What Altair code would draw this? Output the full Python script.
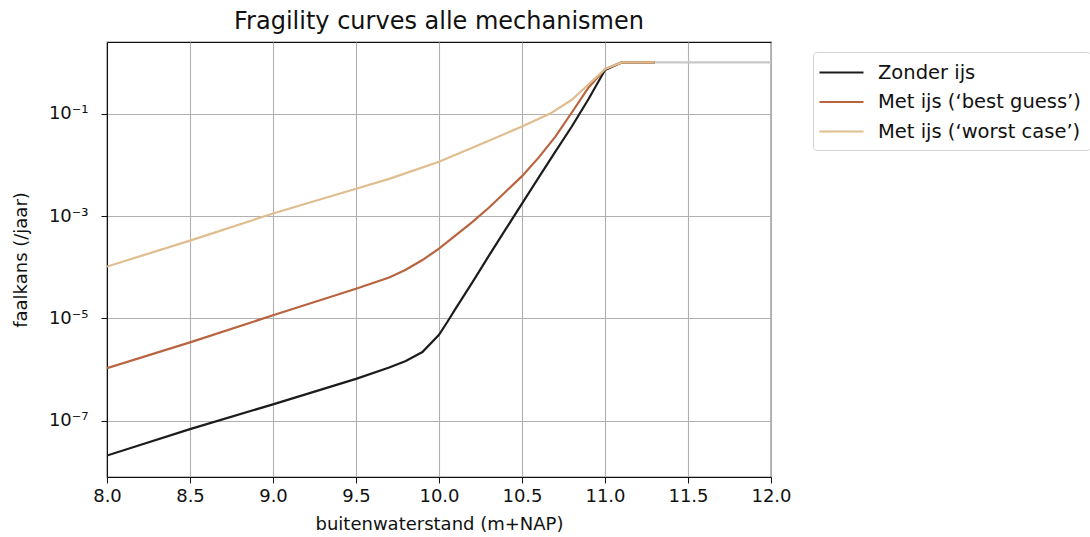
import altair as alt
import pandas as pd

# Water level (m+NAP) and annual failure probability per scenario
zonder_x = [8.0, 8.5, 9.0, 9.5, 9.7, 9.8, 9.9, 10.0, 10.05, 10.1, 10.2, 10.3,
            10.4, 10.5, 10.6, 10.7, 10.8, 10.9, 11.0, 11.1, 11.3]
zonder_p = [2.1e-8, 6.9e-8, 2.1e-7, 6.6e-7, 1.1e-6, 1.48e-6, 2.2e-6,
            4.8e-6, 8.5e-6, 1.55e-5, 5.0e-5, 1.66e-4, 5.4e-4, 1.74e-3, 5.6e-3,
            1.78e-2, 5.6e-2, 0.19, 0.71, 1.0, 1.0]

best_x = [8.0, 8.5, 9.0, 9.5, 9.7, 9.8, 9.9, 10.0, 10.1, 10.2, 10.3, 10.4, 10.5,
          10.6, 10.7, 10.8, 10.9, 11.0, 11.1, 11.3]
best_p = [1.07e-6, 3.4e-6, 1.15e-5, 3.8e-5, 6.3e-5, 8.9e-5, 1.38e-4, 2.3e-4, 4.2e-4,
          7.6e-4, 1.45e-3, 2.95e-3, 6.0e-3, 1.38e-2, 3.5e-2, 0.105, 0.32, 0.74,
          1.0, 1.0]

worst_x = [8.0, 8.5, 9.0, 9.5, 9.7, 10.0, 10.3, 10.5, 10.67, 10.8, 10.9, 11.0,
           11.1, 11.3]
worst_p = [1.03e-4, 3.3e-4, 1.12e-3, 3.4e-3, 5.3e-3, 1.15e-2, 2.95e-2, 5.6e-2,
           0.1, 0.186, 0.37, 0.74, 1.0, 1.0]

# plateau at probability 1 continuing to the end of the axis
plateau_x = [11.1, 12.0]
plateau_p = [1.0, 1.0]

labels = ["Zonder ijs", "Met ijs (\u2018best guess\u2019)", "Met ijs (\u2018worst case\u2019)"]
colors = ["#1c1c1c", "#b8643f", "#dfbd8e"]

x_ticks = [8.0, 8.5, 9.0, 9.5, 10.0, 10.5, 11.0, 11.5, 12.0]
y_ticks = [1e-7, 1e-5, 1e-3, 1e-1]

frames = []
for name, xs, ps in zip(labels, [zonder_x, best_x, worst_x],
                        [zonder_p, best_p, worst_p]):
    frames.append(pd.DataFrame({"x": xs, "p": ps, "reeks": name}))
curves = pd.concat(frames, ignore_index=True)
curves["volgorde"] = curves["reeks"].map({n: i for i, n in enumerate(labels)})

plateau = pd.DataFrame({"x": plateau_x, "p": plateau_p})

FONT = "DejaVu Sans"

x_enc = alt.X(
    "x:Q",
    scale=alt.Scale(domain=[8, 12], nice=False, zero=False),
    axis=alt.Axis(values=x_ticks, format=".1f", labelFlush=False,
                  title="buitenwaterstand (m+NAP)"),
)
y_enc = alt.Y(
    "p:Q",
    scale=alt.Scale(type="log", domain=[8e-9, 2.5], nice=False),
    axis=alt.Axis(
        values=y_ticks,
        title="faalkans (/jaar)",
        labelExpr=(
            "datum.value < 1e-6 ? '10\u207b\u2077' : "
            "datum.value < 1e-4 ? '10\u207b\u2075' : "
            "datum.value < 1e-2 ? '10\u207b\u00b3' : '10\u207b\u00b9'"
        ),
    ),
)

plateau_line = alt.Chart(plateau).mark_line(
    color="#c8c8c8", strokeWidth=2.2, clip=True
).encode(x=x_enc, y=y_enc)

lines = alt.Chart(curves).mark_line(strokeWidth=2.2, clip=True).encode(
    x=x_enc,
    y=y_enc,
    color=alt.Color(
        "reeks:N",
        scale=alt.Scale(domain=labels, range=colors),
        sort=labels,
        legend=alt.Legend(
            title=None,
            orient="none",
            legendX=706,
            legendY=10,
            symbolType="M-1.4,0H3",
            symbolSize=400,
            symbolStrokeWidth=2.2,
            labelOffset=33,
            rowPadding=8.5,
            padding=9,
            labelFont=FONT,
            labelFontSize=19.5,
            labelColor="#111",
            labelLimit=400,
            strokeColor="#d4d4d4",
            fillColor="white",
            cornerRadius=3,
        ),
    ),
    order=alt.Order("volgorde:Q"),
    detail="reeks:N",
)

chart = (
    alt.layer(plateau_line, lines)
    .properties(
        width=664,
        height=435,
        background="white",
        title=alt.TitleParams(
            "Fragility curves alle mechanismen",
            font=FONT,
            fontSize=24,
            fontWeight="normal",
            color="#111",
            offset=8,
            anchor="middle",
        ),
        autosize="none",
        padding={"left": 107, "top": 42, "right": 319, "bottom": 60},
    )
    .configure_view(stroke="#111", strokeWidth=1.2)
    .configure_axis(
        grid=True,
        gridColor="#b0b0b0",
        gridWidth=1.1,
        domainColor="#111",
        tickColor="#111",
        tickSize=6,
        labelFont=FONT,
        labelFontSize=18,
        labelColor="#111",
        titleFont=FONT,
        titleFontSize=18,
        titleFontWeight="normal",
        titleColor="#111",
    )
    .configure_axisX(labelPadding=4, titlePadding=10)
    .configure_axisY(labelPadding=13, titlePadding=18)
)

chart.save("out.html", embed_options={"renderer": "svg", "actions": False})
